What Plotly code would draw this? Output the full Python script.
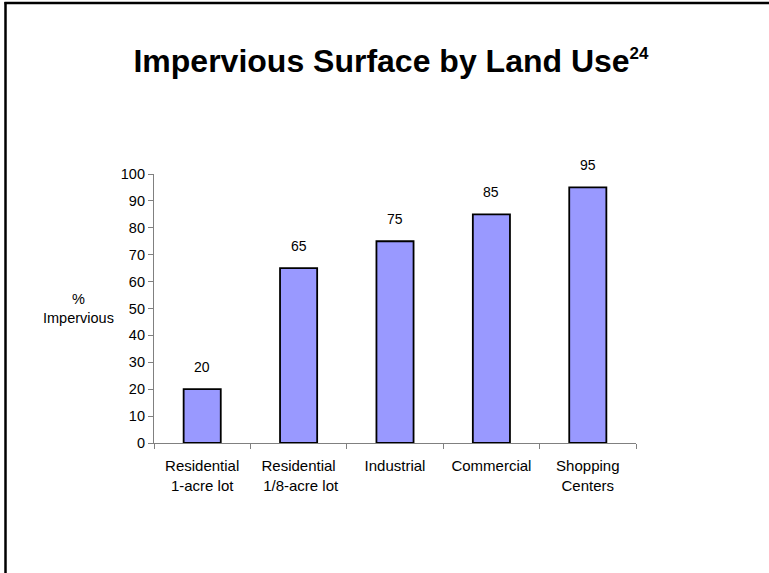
import plotly.graph_objects as go

categories = ["Residential 1-acre lot", "Residential 1/8-acre lot", "Industrial", "Commercial", "Shopping Centers"]
tick_labels = ["Residential<br>1-acre lot", "Residential<br> 1/8-acre lot", "Industrial", "Commercial", "Shopping<br>Centers"]
values = [20, 65, 75, 85, 95]
y_ticks = list(range(0, 101, 10))

W, H = 769, 573
L, R, T, B = 154, 133, 174, 130
pw = W - L - R
ph = H - T - B

def px_to_paper_x(px):
    return (px - L) / pw

def px_to_paper_y(py):
    return (H - B - py) / ph

fig = go.Figure()
fig.add_trace(go.Bar(
    x=categories, y=values,
    marker=dict(color="#9999FF", line=dict(color="black", width=1.8)),
    width=0.385,
    hoverinfo="skip",
))

for c, v in zip(categories, values):
    fig.add_annotation(x=c, y=v, text=str(v), showarrow=False, yanchor="bottom",
                       yshift=12, font=dict(family="Arial", size=14, color="black"))

fig.add_annotation(xref="paper", yref="y", x=px_to_paper_x(78), y=50, text="%<br>Impervious",
                   showarrow=False, xanchor="center", yanchor="middle",
                   font=dict(family="Arial", size=14.5, color="black"))

# frame lines
fig.add_shape(type="line", xref="paper", yref="paper",
              x0=px_to_paper_x(5.5), x1=px_to_paper_x(5.5),
              y0=px_to_paper_y(2), y1=px_to_paper_y(580),
              line=dict(color="black", width=2.5))
fig.add_shape(type="line", xref="paper", yref="paper",
              x0=px_to_paper_x(4.5), x1=px_to_paper_x(780),
              y0=px_to_paper_y(3), y1=px_to_paper_y(3),
              line=dict(color="black", width=2.5))

fig.update_layout(
    width=W, height=H,
    margin=dict(l=L, r=R, t=T, b=B),
    paper_bgcolor="white", plot_bgcolor="white",
    showlegend=False,
    title=dict(text="<b>Impervious Surface by Land Use<sup><span style='font-size:17px'>24</span></sup></b>",
               x=391 / W, xanchor="center", y=1 - 61 / H, yanchor="middle",
               font=dict(family="Arial", size=32, color="black")),
    bargap=0.615,
)
fig.update_xaxes(
    tickmode="array", tickvals=categories, ticktext=tick_labels,
    tickson="boundaries", ticks="outside", ticklen=5, tickcolor="#808080",
    showline=True, linecolor="#808080", linewidth=1.2,
    showgrid=False, tickangle=0, ticklabelstandoff=9,
    tickfont=dict(family="Arial", size=15, color="black"),
)
fig.update_yaxes(
    range=[0, 100], tickmode="array", tickvals=y_ticks,
    ticks="outside", ticklen=5, tickcolor="#808080",
    showline=True, linecolor="#808080", linewidth=1.2,
    showgrid=False, zeroline=False,
    tickfont=dict(family="Arial", size=14.5, color="black"),
)

fig.write_html("out.html")
